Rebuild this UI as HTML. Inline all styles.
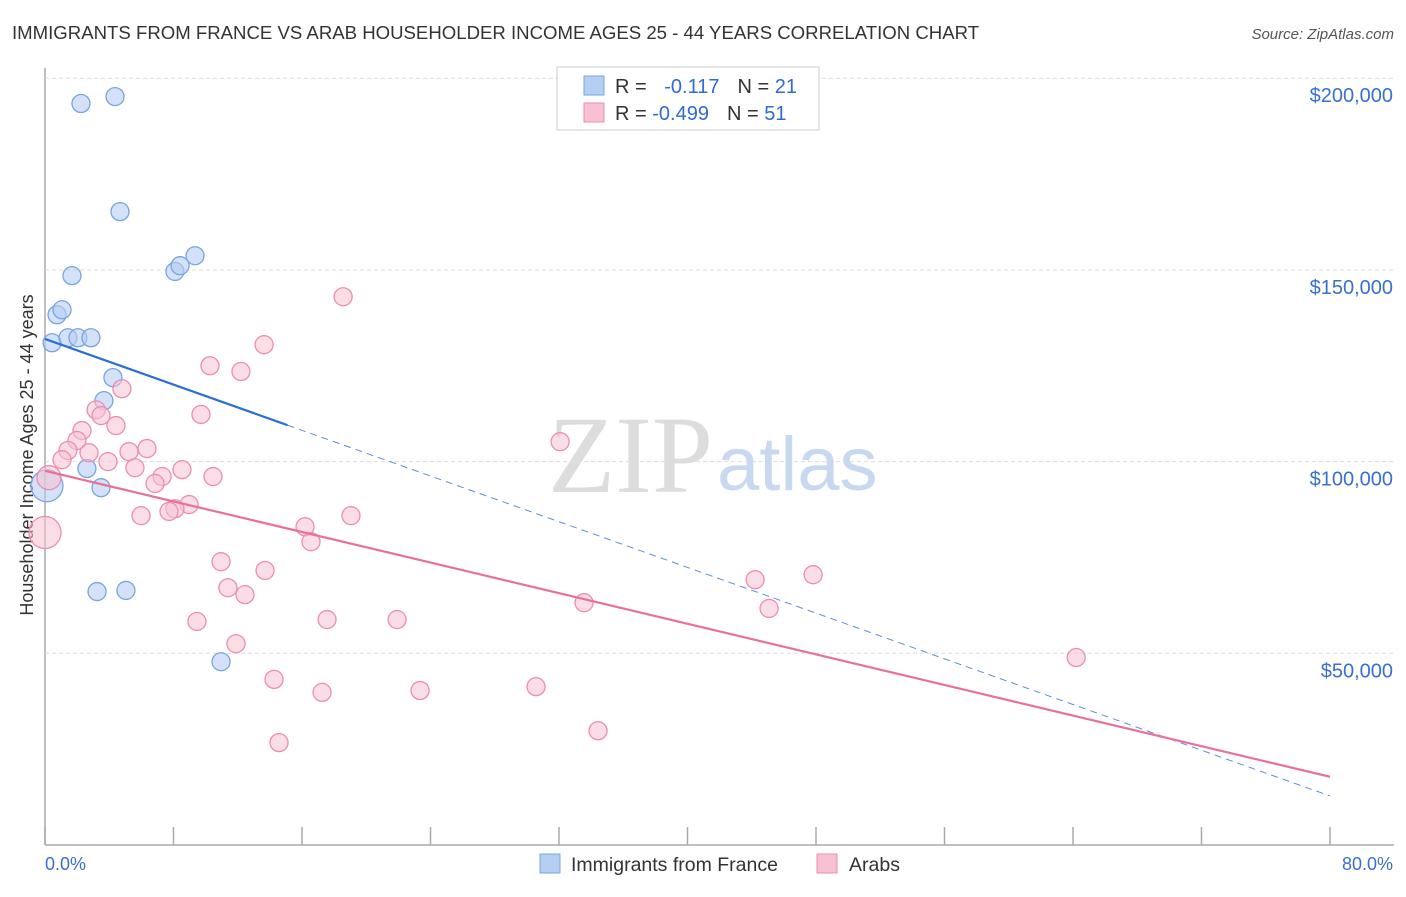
<!DOCTYPE html>
<html><head><meta charset="utf-8"><style>
body{margin:0;background:#fff;font-family:"Liberation Sans",sans-serif;}
</style></head><body>
<svg id="c" width="1406" height="892" xmlns="http://www.w3.org/2000/svg">
<text x="12" y="39" font-size="18.6" fill="#333">IMMIGRANTS FROM FRANCE VS ARAB HOUSEHOLDER INCOME AGES 25 - 44 YEARS CORRELATION CHART</text>
<text x="1394" y="39" font-size="15" fill="#555" font-style="italic" text-anchor="end">Source: ZipAtlas.com</text>
<text x="33" y="455" font-size="18" fill="#333" text-anchor="middle" transform="rotate(-90 33 455)">Householder Income Ages 25 - 44 years</text>
<g id="grid"></g>
<text x="713" y="492" font-size="110" fill="#ddd" text-anchor="end" font-family="Liberation Serif,serif">ZIP</text>
<text x="717" y="490" font-size="76" fill="#c8d8f0">atlas</text>
<g id="marks"></g>
<g>
<rect x="557" y="67" width="262" height="63" fill="#fff" stroke="#ccc"/>
<rect x="584" y="76" width="20" height="19" fill="#b5cff3" stroke="#7aa3e0"/>
<rect x="584" y="103" width="20" height="19" fill="#f7c1d2" stroke="#ec8db0"/>
<text x="615" y="93" font-size="20" fill="#333">R = <tspan fill="#2f6bd1" dx="12">-0.117</tspan><tspan dx="18" fill="#333">N = </tspan><tspan fill="#2f6bd1">21</tspan></text>
<text x="615" y="120" font-size="20" fill="#333">R = <tspan fill="#2f6bd1">-0.499</tspan><tspan dx="18" fill="#333">N = </tspan><tspan fill="#2f6bd1">51</tspan></text>
</g>
<g>
<rect x="540" y="854" width="20" height="19" fill="#b5cff3" stroke="#7aa3e0"/>
<text x="571" y="871" font-size="19.5" fill="#333">Immigrants from France</text>
<rect x="817" y="854" width="20" height="19" fill="#f7c1d2" stroke="#ec8db0"/>
<text x="849" y="871" font-size="19.5" fill="#333">Arabs</text>
</g>
<text x="45" y="870" font-size="18" fill="#3a6fd0">0.0%</text>
<text x="1393" y="870" font-size="18" fill="#3a6fd0" text-anchor="end">80.0%</text>
</svg>
<script>
const yTicks=[50000,100000,150000,200000];
const yTickLabels=["$50,000","$100,000","$150,000","$200,000"];
const xTicks=[0,8,16,24,32,40,48,56,64,72,80];
const franceX=[2.24,4.36,4.67,1.68,8.09,8.41,9.34,0.75,1.06,0.44,1.43,2.05,2.86,4.23,3.67,2.61,3.49,0.12,3.24,5.04,10.96];
const franceY=[193400,195200,165200,148500,149600,151100,153700,138300,139600,131000,132300,132300,132300,121900,115900,98200,93200,93700,66100,66400,47800];
const franceR=[9,9,9,9,9,9,9,9,9,9,9,9,9,9,9,9,9,16,9,9,9];
const arabX=[18.56,13.64,10.27,12.20,4.79,3.18,9.71,3.49,4.42,2.30,32.07,1.99,1.43,6.35,5.23,1.06,2.74,3.92,5.60,8.53,7.29,6.85,10.46,0.25,8.97,8.09,5.98,7.72,19.05,16.19,16.56,10.96,13.70,11.39,12.45,44.21,47.82,33.56,45.08,9.46,17.56,21.92,11.89,64.20,14.26,17.25,23.35,30.57,34.43,14.57,0.0];
const arabY=[143000,130500,125000,123500,119000,113500,112300,112000,109400,108100,105200,105500,102900,103400,102600,100500,102300,100000,98400,97900,96100,94300,96100,95800,88800,87700,85900,87000,85900,83000,79100,73900,71600,67100,65300,69200,70500,63200,61700,58300,58800,58800,52500,48900,43200,39800,40300,41300,29800,26700,81500];
const arabR=[9,9,9,9,9,9,9,9,9,9,9,9,9,9,9,9,9,9,9,9,9,9,9,12,9,9,9,9,9,9,9,9,9,9,9,9,9,9,9,9,9,9,9,9,9,9,9,9,9,9,16];
const franceTrend=[132000,-1490]; const franceSolidEnd=15.1;
const arabTrend=[97600,-997.5];
const NS="http://www.w3.org/2000/svg";
const xs=v=>45+v*16.0625, ys=v=>845-v*0.003834;
function mk(p,t,a){const e=document.createElementNS(NS,t);for(const k in a)e.setAttribute(k,a[k]);p.appendChild(e);return e;}
const g=document.getElementById('grid'),m=document.getElementById('marks');
const ax=mk(g,'line',{x1:45,y1:68,x2:45,y2:845,stroke:'#aaa','stroke-width':1.5});

const bx=mk(g,'line',{x1:45,y1:845,x2:1394,y2:845,stroke:'#aaa','stroke-width':1.5});

yTicks.forEach((v,i)=>{const l=mk(g,'line',{x1:45,y1:ys(v),x2:1394,y2:ys(v),stroke:'#ddd','stroke-dasharray':'4 3'});

const t=mk(g,'text',{x:1393,y:ys(v)+24,'font-size':20,fill:'#3a6fd0','text-anchor':'end'});t.textContent=yTickLabels[i];
});
xTicks.forEach(v=>{const l=mk(g,'line',{x1:xs(v),y1:827,x2:xs(v),y2:845,stroke:'#aaa','stroke-width':1.5});
});
franceX.forEach((x,i)=>{const c=mk(m,'circle',{cx:xs(x),cy:ys(franceY[i]),r:franceR[i],fill:'#b5cff3','fill-opacity':0.6,stroke:'#7aa3e0','stroke-width':1.3});
});
arabX.forEach((x,i)=>{const c=mk(m,'circle',{cx:xs(x),cy:ys(arabY[i]),r:arabR[i],fill:'#f7c1d2','fill-opacity':0.55,stroke:'#ec8db0','stroke-width':1.3});
});
const fy=x=>franceTrend[0]+franceTrend[1]*x, ay=x=>arabTrend[0]+arabTrend[1]*x;
const l1=mk(m,'line',{x1:xs(0),y1:ys(fy(0)),x2:xs(franceSolidEnd),y2:ys(fy(franceSolidEnd)),stroke:'#2a6fd6','stroke-width':2.2});

const l2=mk(m,'line',{x1:xs(franceSolidEnd),y1:ys(fy(franceSolidEnd)),x2:xs(80),y2:ys(fy(80)),stroke:'#5b8fdc','stroke-width':1,'stroke-dasharray':'7 5'});

const l3=mk(m,'line',{x1:xs(0),y1:ys(ay(0)),x2:xs(80),y2:ys(ay(80)),stroke:'#e8709b','stroke-width':2.2});

</script>
</body></html>
